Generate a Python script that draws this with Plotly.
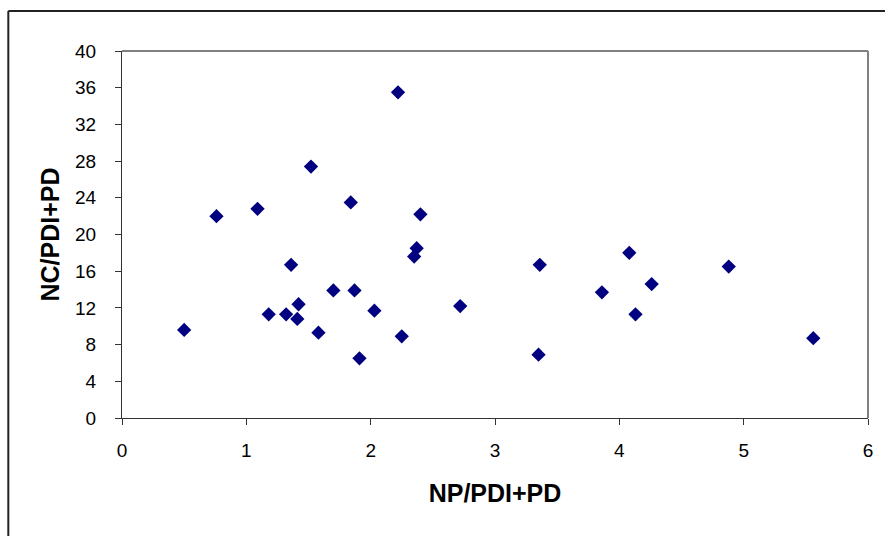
import plotly.graph_objects as go

np_pdi_pd = [0.50, 0.76, 1.09, 1.18, 1.32, 1.36, 1.41, 1.42, 1.52, 1.58,
             1.70, 1.84, 1.87, 1.91, 2.03, 2.25, 2.35, 2.37, 2.40, 2.72,
             2.22, 3.36, 3.35, 3.86, 4.08, 4.26, 4.13, 4.88, 5.56]
nc_pdi_pd = [9.6, 22.0, 22.8, 11.3, 11.3, 16.7, 10.8, 12.4, 27.4, 9.3,
             13.9, 23.5, 13.9, 6.5, 11.7, 8.9, 17.6, 18.5, 22.2, 12.2,
             35.5, 16.7, 6.9, 13.7, 18.0, 14.6, 11.3, 16.5, 8.7]

x_ticks = [0, 1, 2, 3, 4, 5, 6]
y_ticks = [0, 4, 8, 12, 16, 20, 24, 28, 32, 36, 40]

fig = go.Figure()
fig.add_trace(go.Scatter(
    x=np_pdi_pd, y=nc_pdi_pd, mode="markers",
    marker=dict(symbol="diamond", size=11, color="#000080",
                line=dict(width=0)),
    showlegend=False,
))

font = "Liberation Sans, Arial, sans-serif"
fig.update_layout(
    width=885, height=536,
    margin=dict(l=122, r=15, t=51, b=118),
    paper_bgcolor="white", plot_bgcolor="white",
    font=dict(family=font, size=18, color="black"),
    xaxis=dict(range=[0, 6], tickvals=x_ticks, ticks="outside", ticklen=6,
               tickcolor="#333", showgrid=False, zeroline=False,
               showline=True, linecolor="#333", linewidth=1,
               tickfont=dict(size=19), ticklabelstandoff=9,
               title=dict(text="<b>NP/PDI+PD</b>", font=dict(size=25), standoff=24)),
    yaxis=dict(range=[0, 40], tickvals=y_ticks, ticks="outside", ticklen=6,
               tickcolor="#333", showgrid=False, zeroline=False,
               showline=True, linecolor="#333", linewidth=1,
               tickfont=dict(size=19), ticklabelstandoff=15,
               title=dict(text="<b>NC/PDI+PD</b>", font=dict(size=25), standoff=8)),
    shapes=[
        # plot area border top/right
        dict(type="line", xref="paper", yref="paper", x0=0, x1=1, y0=1, y1=1,
             line=dict(color="#808080", width=2)),
        dict(type="line", xref="paper", yref="paper", x0=1, x1=1, y0=0, y1=1,
             line=dict(color="#808080", width=2)),
        # outer chart frame (left and top edges visible)
        dict(type="line", xref="paper", yref="paper", x0=-0.1524, x1=1.05,
             y0=1.109, y1=1.109, line=dict(color="#222", width=2)),
        dict(type="line", xref="paper", yref="paper", x0=-0.1524, x1=-0.1524,
             y0=-0.4, y1=1.109, line=dict(color="#222", width=2)),
    ],
)

fig.write_html("out.html")
